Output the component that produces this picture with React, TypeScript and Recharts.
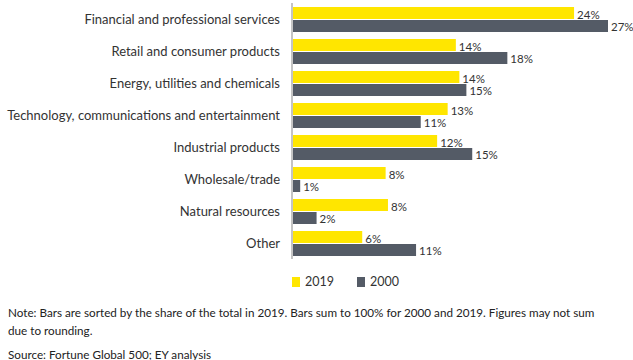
import React from "react"
import { Bar, BarChart, LabelList, Legend, XAxis, YAxis } from "recharts"

const sectors = [
  "Financial and professional services",
  "Retail and consumer products",
  "Energy, utilities and chemicals",
  "Technology, communications and entertainment",
  "Industrial products",
  "Wholesale/trade",
  "Natural resources",
  "Other",
]
const share2019 = [24.1, 14.0, 14.3, 13.3, 12.4, 8.0, 8.2, 6.0]
const share2000 = [27.0, 18.4, 14.9, 11.0, 15.4, 0.7, 2.1, 10.6]

const YELLOW = "#FFE600"
const GREY = "#545B66"
const FONT = "Lato, 'Open Sans', sans-serif"

const rows = sectors.map((name, i) => ({ name, y2019: share2019[i], y2000: share2000[i] }))

const pct = (v: unknown) => `${Math.round(Number(v))}%`

function SectorTick(props: any) {
  const { x, y, payload } = props
  return (
    <text x={x} y={y} dy="0.36em" textAnchor="end" fill="#333" fontSize={13} fontFamily={FONT}>
      {payload.value}
    </text>
  )
}

function LegendBox() {
  const item = (color: string, label: string) => (
    <span style={{ display: "inline-flex", alignItems: "center", marginRight: 23 }}>
      <span style={{ width: 8, height: 10, background: color, display: "inline-block", marginRight: 5 }} />
      <span style={{ fontSize: 12.5, color: "#333" }}>{label}</span>
    </span>
  )
  return (
    <div style={{ height: 30, paddingTop: 15, paddingLeft: 292, boxSizing: "border-box", fontFamily: FONT, lineHeight: "14px", textAlign: "left" }}>
      {item(YELLOW, "2019")}
      {item(GREY, "2000")}
    </div>
  )
}

export default function App() {
  return (
    <div style={{ position: "absolute", left: 0, top: 0, width: 633, height: 360, background: "#fff", fontFamily: FONT }}>
      <BarChart
        width={633}
        height={290}
        data={rows}
        layout="vertical"
        margin={{ top: 3, right: 25, bottom: 1, left: 0 }}
        barGap={1}
        barSize={12}
      >
        <XAxis type="number" domain={[0, 27]} hide />
        <YAxis
          type="category"
          dataKey="name"
          width={292}
          tickLine={false}
          tickSize={6}
          tickMargin={6}
          axisLine={{ stroke: "#c4c4c4", strokeWidth: 2 }}
          tick={<SectorTick />}
          interval={0}
        />
        <Legend verticalAlign="bottom" content={<LegendBox />} />
        <Bar dataKey="y2019" name="2019" fill={YELLOW} isAnimationActive={false}>
          <LabelList dataKey="y2019" position="right" offset={3} formatter={pct} style={{ fill: "#333", fontSize: 11.5, fontFamily: FONT }} dy={2} />
        </Bar>
        <Bar dataKey="y2000" name="2000" fill={GREY} isAnimationActive={false}>
          <LabelList dataKey="y2000" position="right" offset={3} formatter={pct} style={{ fill: "#333", fontSize: 11.5, fontFamily: FONT }} dy={1} />
        </Bar>
      </BarChart>
      <div style={{ position: "absolute", left: 8, top: 303, width: 625, fontSize: 11.7, lineHeight: "18px", color: "#222", whiteSpace: "nowrap" }}>
        Note: Bars are sorted by the share of the total in 2019. Bars sum to 100% for 2000 and 2019. Figures may not sum
        <br />
        due to rounding.
      </div>
      <div style={{ position: "absolute", left: 8, top: 346, fontSize: 11.7, lineHeight: "16px", color: "#222" }}>
        Source: Fortune Global 500; EY analysis
      </div>
    </div>
  )
}
